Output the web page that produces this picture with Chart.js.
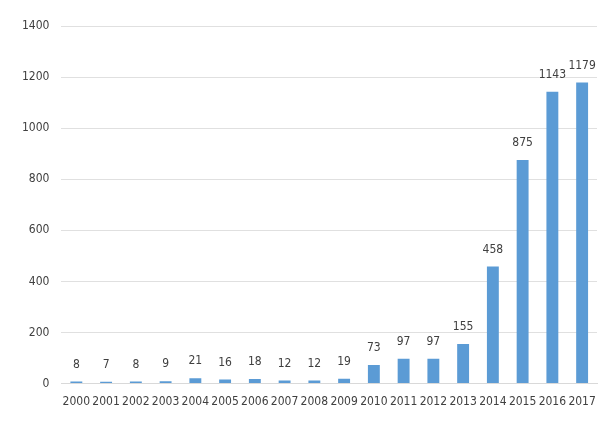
<!DOCTYPE html>
<html><head><meta charset="utf-8">
<script src="https://cdn.jsdelivr.net/npm/chart.js@4"></script>
<style>html,body{margin:0;padding:0;background:#fff}#w{width:608px;height:421px}</style>
</head><body><div id="w"><canvas id="c"></canvas></div>
<script>
const categories=["2000","2001","2002","2003","2004","2005","2006","2007","2008","2009","2010","2011","2012","2013","2014","2015","2016","2017"];
const values=[8,7,8,9,21,16,18,12,12,19,73,97,97,155,458,875,1143,1179];
const yTicks=[0,200,400,600,800,1000,1200,1400];
const labelPlugin={id:'lbl',afterDatasetsDraw(ch){const ctx=ch.ctx;const m=ch.getDatasetMeta(0);ctx.save();ctx.font='12px "DejaVu Sans Condensed","DejaVu Sans",sans-serif';ctx.fillStyle='#404040';ctx.textAlign='center';ctx.textBaseline='bottom';m.data.forEach((b,i)=>{ctx.fillText(values[i],b.x,b.y-11);});ctx.restore();}};
new Chart(document.getElementById('c'),{type:'bar',data:{labels:categories,datasets:[{data:values,backgroundColor:'#5B9BD5',categoryPercentage:1,barPercentage:0.4}]},
options:{responsive:true,maintainAspectRatio:false,animation:false,layout:{padding:{left:10,right:11,top:26,bottom:9}},
plugins:{legend:{display:false},tooltip:{enabled:false}},
scales:{x:{grid:{display:false},border:{color:'#d9d9d9'},ticks:{color:'#404040',font:{size:12,family:'"DejaVu Sans Condensed","DejaVu Sans",sans-serif'},maxRotation:0,autoSkip:false}},
y:{min:0,max:1400,afterBuildTicks(a){a.ticks=yTicks.map(v=>({value:v}));},grid:{color:'#e0e0e0',drawTicks:false},border:{display:false},ticks:{color:'#404040',padding:12,callback:v=>String(v),font:{size:12,family:'"DejaVu Sans Condensed","DejaVu Sans",sans-serif'}}}}},
plugins:[labelPlugin]});
</script></body></html>
